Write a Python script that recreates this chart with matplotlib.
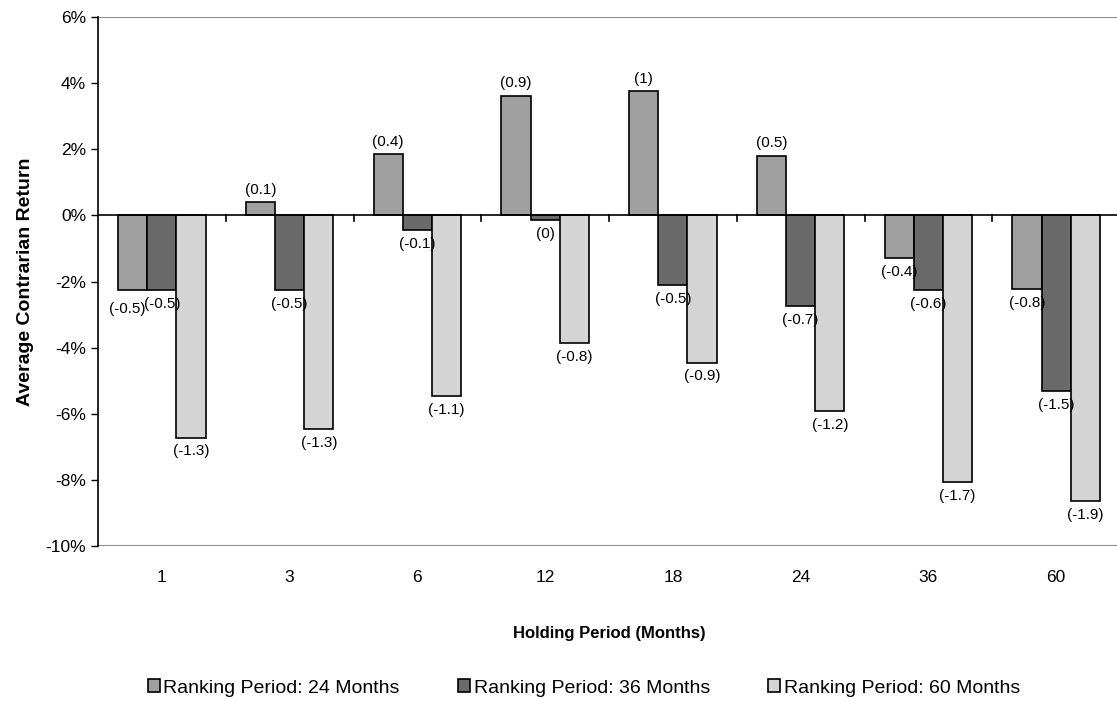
import numpy as np
import matplotlib.pyplot as plt
from matplotlib.ticker import FuncFormatter

plt.rcParams['font.family'] = ['Liberation Sans', 'DejaVu Sans']

holding = ['1', '3', '6', '12', '18', '24', '36', '60']
series_names = ['Ranking Period: 24 Months', 'Ranking Period: 36 Months', 'Ranking Period: 60 Months']

# average contrarian return (%) per holding period
ret_24 = [-2.25, 0.40, 1.85, 3.62, 3.75, 1.80, -1.30, -2.22]
ret_36 = [-2.25, -2.25, -0.45, -0.15, -2.10, -2.75, -2.25, -5.30]
ret_60 = [-6.72, -6.45, -5.45, -3.85, -4.45, -5.92, -8.07, -8.65]

# t-statistics shown in parentheses
t_24 = ['-0.5', '0.1', '0.4', '0.9', '1', '0.5', '-0.4', '-0.8']
t_36 = ['-0.5', '-0.5', '-0.1', '0', '-0.5', '-0.7', '-0.6', '-1.5']
t_60 = ['-1.3', '-1.3', '-1.1', '-0.8', '-0.9', '-1.2', '-1.7', '-1.9']

colors = ['#a0a0a0', '#6a6a6a', '#d4d4d4']

fig = plt.figure(figsize=(11.17, 7.01), dpi=100)
ax = fig.add_axes([98 / 1117, 1 - 546 / 701, 1022 / 1117, 529 / 701])

x = np.arange(len(holding))
w = 0.228
offsets = [-w, 0, w]
handles = []
for k, (vals, tstats, off, col, name) in enumerate(zip([ret_24, ret_36, ret_60], [t_24, t_36, t_60],
                                                       offsets, colors, series_names)):
    bars = ax.bar(x + off, vals, width=w, color=col, edgecolor='black', linewidth=1.2,
                  label=name, zorder=3)
    handles.append(bars)
    for i, (xi, v, t) in enumerate(zip(x + off, vals, tstats)):
        if v >= 0:
            ax.annotate(f'({t})', (xi, v), xytext=(0, 4), textcoords='offset points',
                        ha='center', va='bottom', fontsize=11, zorder=6)
        else:
            # first group: the two equal bars sit side by side, nudge the left label
            dx, dy = (-4, -9) if (i == 0 and k == 0) else (0, -5)
            ax.annotate(f'({t})', (xi, v), xytext=(dx, dy), textcoords='offset points',
                        ha='center', va='top', fontsize=11, zorder=6)

ax.set_xlim(-0.5, 7.5)
ax.set_ylim(-10, 6)
ax.set_yticks(np.arange(-10, 7, 2))
ax.yaxis.set_major_formatter(FuncFormatter(lambda v, p: f'{v:.0f}%'))
ax.tick_params(axis='y', labelsize=12.5, length=5, width=1, direction='out')

# category labels along the bottom, tick marks on the zero line between groups
ax.set_xticks(x)
ax.set_xticklabels(holding)
ax.tick_params(axis='x', labelsize=12.5, length=0, pad=17)
ax.axhline(0, color='black', linewidth=1.2, zorder=4)
for b in np.arange(0.5, 7.5, 1):
    ax.plot([b, b], [0, -0.17], color='black', linewidth=1.2, zorder=4)

for side in ['top', 'right', 'bottom']:
    ax.spines[side].set_visible(False)
ax.spines['left'].set_linewidth(1.2)
ax.axhline(6, color='#8c8c8c', linewidth=1.5, zorder=1)
ax.axhline(-10, color='#8c8c8c', linewidth=1.5, zorder=1)

ax.set_ylabel('Average Contrarian Return', fontsize=14, fontweight='bold', labelpad=8)
ax.set_xlabel('Holding Period (Months)', fontsize=12, fontweight='bold', labelpad=30)

fig.legend(handles=handles, loc='center', bbox_to_anchor=(584 / 1117, 1 - 688 / 701), ncol=3,
           frameon=False, fontsize=14, handlelength=0.6, handleheight=0.6,
           handletextpad=0.2, columnspacing=3.0)

fig.savefig('out.png', dpi=100)
